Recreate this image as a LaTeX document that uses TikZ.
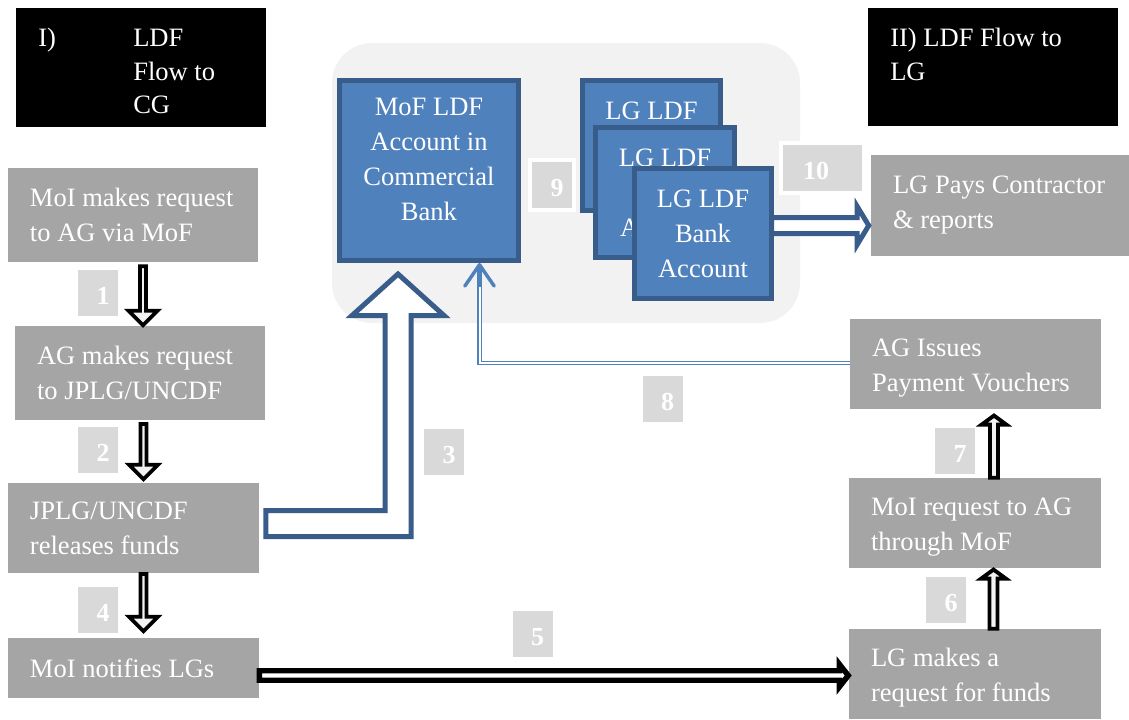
\documentclass[tikz,border=0pt]{standalone}
\usepackage{fontspec}
\setmainfont{Liberation Serif}
\usetikzlibrary{calc,arrows.meta}
\definecolor{boxgrey}{HTML}{A5A5A5}
\definecolor{numgrey}{HTML}{D9D9D9}
\definecolor{panelgrey}{HTML}{F2F2F2}
\definecolor{bluefill}{HTML}{4F81BD}
\definecolor{blueline}{HTML}{385D8A}
\definecolor{arrowblue}{HTML}{4F81BD}
\definecolor{arrowfill}{HTML}{F2F2F2}
\newcommand\myfont{\fontsize{19.9pt}{26.25pt}\selectfont}
\newcommand\headfont{\fontsize{19.9pt}{25.1pt}\selectfont}
\newcommand\numfont{\fontsize{19.5pt}{22pt}\selectfont\bfseries}
\begin{document}
\begin{tikzpicture}[x=0.75pt, y=-0.75pt,
  greybox/.style={fill=boxgrey, text=white, align=left, inner xsep=16.5pt, inner ysep=0pt, font=\myfont,
    execute at begin node={\spaceskip=0pt\xspaceskip=0pt\hyphenpenalty=10000\relax}},
  headbox/.style={fill=black, inner sep=0pt, minimum width=187.5pt, minimum height=88.75pt},
  headtext/.style={anchor=north west, inner sep=0pt, text=white, align=left, font=\headfont},
  panel/.style={fill=panelgrey, rounded corners=30pt, inner sep=0pt},
  bluebox/.style={fill=bluefill, draw=blueline, line width=3.75pt, inner sep=0pt, text=white, align=center, font=\myfont},
  bluetext/.style={inner sep=0pt, text=white, align=center, font=\myfont},
  numbox/.style={fill=numgrey, draw=white, line width=3pt, minimum width=33pt, minimum height=37.5pt, inner sep=0pt, text=white, font=\numfont, text height=17.5pt, text depth=0pt},
  fatv/.style n args={3}{to path={($(\tikztostart)+(-#1,0)$) -- ($(\tikztotarget)+(-#1,#3)$) -- ($(\tikztotarget)+(-#2,#3)$) -- (\tikztotarget) -- ($(\tikztotarget)+(#2,#3)$) -- ($(\tikztotarget)+(#1,#3)$) -- ($(\tikztostart)+(#1,0)$) -- cycle}},
  fath/.style n args={3}{to path={($(\tikztostart)+(0,-#1)$) -- ($(\tikztotarget)+(#3,-#1)$) -- ($(\tikztotarget)+(#3,-#2)$) -- (\tikztotarget) -- ($(\tikztotarget)+(#3,#2)$) -- ($(\tikztotarget)+(#3,#1)$) -- ($(\tikztostart)+(0,#1)$) -- cycle}},
  blackhollow/.style={draw=black, fill=arrowfill, line width=2.9pt, line join=miter},
  blackhollowwide/.style={draw=black, fill=white, line width=4.1pt, line join=miter},
  bluehollow/.style={draw=blueline, fill=white, line width=3.75pt, line join=miter},
  thinblue/.style={draw=arrowblue, double=white, line width=1.1pt, double distance=1.5pt},
  bluehead/.style={draw=arrowblue, line width=2.4pt, -{Straight Barb[length=16pt, width=22pt, line width=2.6pt, round]}}
]
\fill[white] (0,0) rectangle (1129,719);
\useasboundingbox (0,0) rectangle (1129,719);

% header boxes
\node[headbox] (hb1) at (140.5,67.5) {};
\node[headtext] (h1a) at (38,28) {I)};
\node[headtext] (h1b) at (133,29) {LDF\\Flow to\\CG};
\node[headbox] (hb2) at (993,67) {};
\node[headtext] (h2) at (890,28) {II) LDF Flow to\\LG};

% left column
\node[greybox, text width=154.5pt, minimum width=187.5pt, minimum height=70.5pt] (A) at (133,215) {MoI~makes~request\\to~AG~via~MoF};
\node[greybox, text width=154.5pt, minimum width=187.5pt, minimum height=70.5pt] (B) at (140,373) {AG~makes~request\\to~JPLG/UNCDF};
\node[greybox, text width=155.25pt, minimum width=188.25pt, minimum height=67.5pt] (C) at (133.5,528) {JPLG/UNCDF\\releases~funds};
\node[greybox, text width=155.25pt, minimum width=188.25pt, minimum height=45pt] (D) at (133.5,668) {MoI~notifies~LGs};

% right column
\node[greybox, text width=160.5pt, minimum width=193.5pt, minimum height=75.75pt] (E) at (1000,205.5) {LG~Pays~Contractor\\\&~reports};
\node[greybox, text width=155.25pt, minimum width=188.25pt, minimum height=67.5pt, text height=19.5pt] (F) at (975.5,364) {AG~Issues\\Payment~Vouchers};
\node[greybox, text width=156pt, minimum width=189pt, minimum height=67.5pt, text height=19.5pt] (G) at (975,523) {MoI~request~to~AG\\through~MoF};
\node[greybox, text width=156pt, minimum width=189pt, minimum height=67.5pt, text height=19.5pt] (H) at (975,674) {LG~makes~a\\request~for~funds};

% panel with accounts
\node[panel, minimum width=351pt, minimum height=210pt] (panel) at (566,183) {};
\node[bluebox, minimum width=134.25pt, minimum height=135pt] (MoF) at (429,170.5) {};
\node[bluetext] (moftext) at (429,159.5) {MoF LDF\\Account in\\Commercial\\Bank};
\node[bluebox, minimum width=103.5pt, minimum height=97.5pt] (lg1) at (651.5,145.5) {LG LDF\\\phantom{Bank}\\\phantom{Account}};
\node[bluebox, minimum width=104.25pt, minimum height=97.5pt] (lg2) at (665,192.5) {LG LDF\\\phantom{Bank}\\A\phantom{ccount}};
\node[bluebox, minimum width=102.75pt, minimum height=97.5pt] (lg3) at (703,233.5) {LG LDF\\Bank\\Account};

% step numbers
\node[numbox] (n1) at (98,292.5) {\hspace*{7.5pt}1};
\node[numbox] (n2) at (98,449.5) {\hspace*{7.5pt}2};
\node[numbox] (n3) at (444,451.5) {\hspace*{7.5pt}3};
\node[numbox] (n4) at (98,610) {\hspace*{7.5pt}4};
\node[numbox] (n5) at (532.5,634) {\hspace*{7.5pt}5};
\node[numbox] (n6) at (946,599.5) {\hspace*{7.5pt}6};
\node[numbox] (n7) at (955,450.5) {\hspace*{7.5pt}7};
\node[numbox] (n8) at (662.5,399) {\hspace*{7.5pt}8};
\node[numbox] (n9) at (552,185) {\hspace*{7.5pt}9};
\node[numbox, minimum width=62.25pt] (n10) at (822.5,168) {10\hspace*{9.75pt}};

% black hollow arrows, left column
\draw[blackhollow] ([shift={(10,4)}]A.south) to[fatv={3}{14.5}{-14.5}] ([shift={(3,-0.5)}]B.north);
\draw[blackhollow] ([shift={(3.5,3.75)}]B.south) to[fatv={3}{14.5}{-14.5}] ([shift={(10,-3.5)}]C.north);
\draw[blackhollow] ([shift={(10,0.75)}]C.south) to[fatv={3}{14.5}{-14.5}] ([shift={(10,-6.5)}]D.north);

% black hollow arrows, right column
\draw[blackhollow] ([shift={(19,0)}]G.north) to[fatv={4}{12.3}{9}] ([shift={(18.5,6.3)}]F.south);
\draw[blackhollow] ([shift={(18.5,0)}]H.north) to[fatv={4}{12.3}{9}] ([shift={(18.5,1.3)}]G.south);

% arrow 5
\draw[blackhollowwide] ([shift={(0,7.5)}]D.east) to[fath={4.75}{11.25}{-8.8}] ([shift={(-0.5,1.5)}]H.west);

% arrow 3
\draw[bluehollow] ($(C.east)+(6.5,-17.5)$) -| ($(MoF.south)+(-44,52.5)$) -- ($(MoF.south)+(-77,52.5)$) -- ($(MoF.south)+(-31,11)$) -- ($(MoF.south)+(15,52.5)$) -- ($(MoF.south)+(-18,52.5)$) |- ($(C.east)+(6.5,8.5)$) -- cycle;

% arrow 10
\draw[bluehollow] ([shift={(-2.5,-8)}]lg3.east) to[fath={8}{19}{-11.5}] ([shift={(-2,20)}]E.west);

% arrow 8
\draw[thinblue] ([shift={(0,-1)}]F.west) -| ([shift={(50.5,4)}]MoF.south);
\draw[bluehead] ([shift={(50.5,24)}]MoF.south) -- ([shift={(50.5,0)}]MoF.south);
\end{tikzpicture}
\end{document}
